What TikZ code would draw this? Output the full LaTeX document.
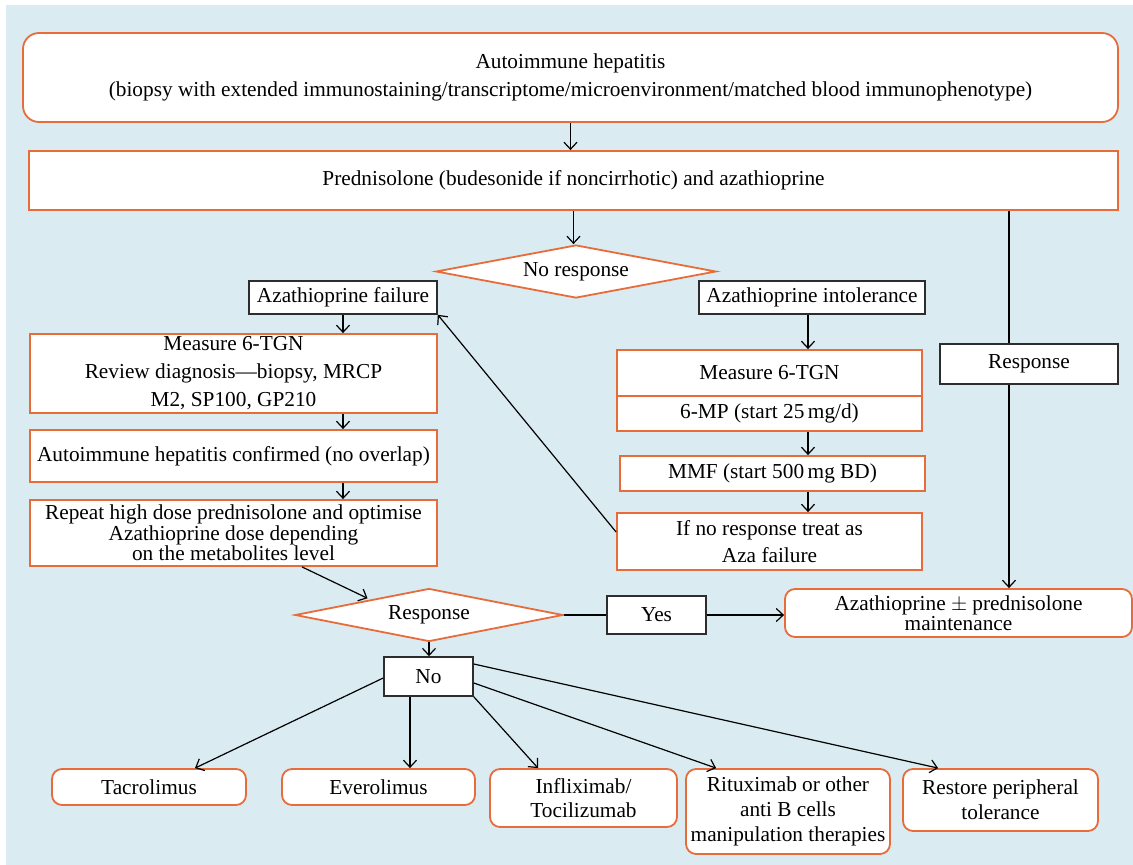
\documentclass[tikz,border=0pt]{standalone}
\usepackage{fontspec}
\setmainfont{Liberation Serif}
\usetikzlibrary{shapes.geometric,arrows.meta}
\definecolor{bgblue}{RGB}{218,236,242}
\definecolor{orng}{RGB}{232,108,58}
\definecolor{dgray}{RGB}{45,45,45}
\begin{document}
\begin{tikzpicture}[x=1pt,y=-1pt,
  sz/.style 2 args={minimum width=#1pt, minimum height=#2pt},
  txt/.style={font=\fontsize{21.3}{27}\selectfont},
  obox/.style={draw=orng, line width=1.8pt, fill=white, inner sep=0pt, align=center, txt},
  bbox/.style={draw=dgray, line width=1.6pt, fill=white, inner sep=0pt, align=center, txt},
  rbox/.style={obox, rounded corners=10pt},
  dia/.style={diamond, draw=orng, line width=1.8pt, fill=white, inner sep=0pt, shape aspect=5, align=center, txt},
  arr/.style={-{Straight Barb[length=7pt,width=13pt]}, line width=1.2pt},
  ln/.style={line width=1.2pt}
]
\useasboundingbox (0,0) rectangle (1133,865);
\fill[bgblue] (6,5) rectangle (1133,865);

% top
\node[obox, rounded corners=16pt, sz={1095}{89}, font=\fontsize{21.3}{28}\selectfont] (top) at (570.5,77.5)
  {Autoimmune hepatitis\\(biopsy with extended immunostaining/transcriptome/microenvironment/matched blood immunophenotype)};
\node[obox, sz={1089}{59}] (pred) at (573.5,180.5)
  {Prednisolone (budesonide if noncirrhotic) and azathioprine};
\node[dia, sz={280}{53}] (nrd) at (576,271.5) {No response};

% left column
\node[bbox, sz={188}{33}] (azfail) at (343,297.5) {Azathioprine failure};
\node[obox, sz={407}{79}, font=\fontsize{21.3}{28}\selectfont] (meas1) at (233.5,373.5)
  {Measure 6-TGN\\Review diagnosis—biopsy, MRCP\\M2, SP100, GP210};
\node[obox, sz={407}{52}] (conf) at (233.5,456)
  {Autoimmune hepatitis confirmed (no overlap)};
\node[obox, sz={407}{66}, font=\fontsize{21.3}{20.5}\selectfont] (rep) at (233.5,533)
  {Repeat high dose prednisolone and optimise\\Azathioprine dose depending\\on the metabolites level};

% middle column
\node[bbox, sz={226}{33}] (azint) at (812,297.5) {Azathioprine intolerance};
\node[obox, sz={305}{46}] (meas2) at (769.5,373) {Measure 6-TGN};
\node[obox, sz={305}{35}] (mp) at (769.5,413.5) {6-MP (start 25\,mg/d)};
\node[obox, sz={305}{35}] (mmf) at (772.5,473.5) {MMF (start 500\,mg BD)};
\node[obox, sz={305}{57}] (ifno) at (769.5,541.5) {If no response treat as\\Aza failure};

% right column
\node[bbox, sz={178}{40}] (resp) at (1029,364) {Response};
\node[rbox, sz={347}{48}, font=\fontsize{21.3}{20}\selectfont] (azm) at (958.5,613)
  {Azathioprine $\pm$ prednisolone\\maintenance};

% response decision
\node[dia, sz={268}{53}] (rd) at (429,615) {Response};
\node[bbox, sz={99}{38}] (yes) at (656.5,615) {Yes};
\node[bbox, sz={89}{39}] (no) at (428.5,676.5) {No};

% bottom row
\node[rbox, sz={194}{36}] (tac) at (149,787) {Tacrolimus};
\node[rbox, sz={193}{36}] (eve) at (378.5,787) {Everolimus};
\node[rbox, sz={187}{58}, font=\fontsize{21.3}{24}\selectfont] (inf) at (583.5,798) {Infliximab/\\Tocilizumab};
\node[rbox, sz={204}{85}, font=\fontsize{21.3}{25}\selectfont] (rit) at (788,811.5) {Rituximab or other\\anti B cells\\manipulation therapies};
\node[rbox, sz={195}{62}, font=\fontsize{21.3}{25}\selectfont] (rest) at (1000.5,800) {Restore peripheral\\tolerance};

% connectors
\draw[arr] (top.south) -- (top.south |- pred.north);
\draw[arr] (pred.south) -- (pred.south |- nrd.north);
\draw[arr] (azfail.south) -- (azfail.south |- meas1.north);
\draw[arr] (azfail.south |- meas1.south) -- (azfail.south |- conf.north);
\draw[arr] (azfail.south |- conf.south) -- (azfail.south |- rep.north);
\draw[arr] ([xshift=68.5pt]rep.south) -- ([xshift=6pt,yshift=3pt]rd.north west);
\draw[arr] ([xshift=-4pt]azint.south) -- ([xshift=-4pt]azint.south |- meas2.north);
\draw[arr] ([xshift=-4pt]azint.south |- mp.south) -- ([xshift=-4pt]azint.south |- mmf.north);
\draw[arr] ([xshift=-4pt]azint.south |- mmf.south) -- ([xshift=-4pt]azint.south |- ifno.north);
\draw[arr] ([yshift=9.5pt]ifno.west) -- (azfail.south east);
\draw[ln] ([xshift=-20pt]resp.north |- pred.south) -- ([xshift=-20pt]resp.north);
\draw[arr] ([xshift=-20pt]resp.south) -- ([xshift=-20pt]resp.south |- azm.north);
\draw[ln] (rd.east) -- (yes.west);
\draw[arr] (yes.east) -- (yes.east -| azm.west);
\draw[arr] (rd.south) -- (rd.south |- no.north);
\draw[arr] ([yshift=-1.5pt]no.west) -- ([xshift=46pt]tac.north);
\draw[arr] ([xshift=-18.5pt]no.south) -- ([xshift=-18.5pt]no.south |- eve.north);
\draw[arr] (no.south east) -- ([xshift=-45.5pt]inf.north);
\draw[arr] ([yshift=-6.5pt]no.east) -- ([xshift=31pt]rit.north west);
\draw[arr] ([yshift=12.5pt]no.east) -- ([xshift=36pt]rest.north west);
\end{tikzpicture}
\end{document}
